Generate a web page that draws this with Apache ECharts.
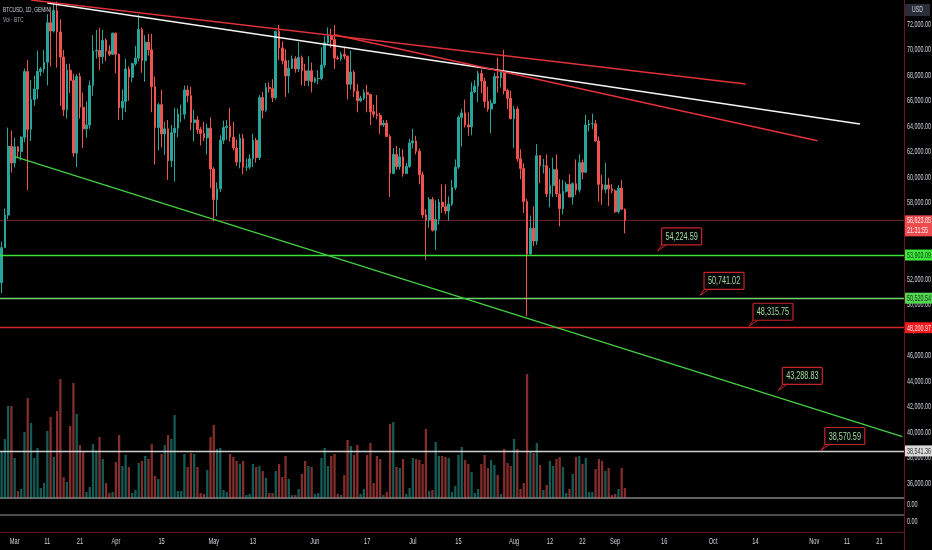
<!DOCTYPE html>
<html>
<head>
<meta charset="utf-8">
<script src="https://cdn.jsdelivr.net/npm/echarts@6/dist/echarts.min.js"></script>
<style>
  html, body { margin: 0; padding: 0; background: #000; }
  #chart { width: 932px; height: 550px; }
</style>
</head>
<body>
<div id="chart"></div>
<script>
// ---- data ----
var startDate = '2024-02-26';   // first category (day)
var dayCount = 277;             // categories on the time axis, up to Nov 28

// daily candles [open, high, low, close], from Feb 26 to Sep 4
var ohlc = [
  [51730,54940,50900,54480],[54480,57550,54450,57040],[57040,63900,56700,62430],[62430,63680,60360,61130],
  [61130,63110,60780,62390],[62390,62450,61600,62020],[62020,63220,61320,63140],[63140,68520,62750,68300],
  [68300,69200,59000,63760],[63760,67640,62850,66100],[66100,67980,65600,66920],[66920,69950,66150,68300],
  [68300,68650,67950,68500],[68500,69980,68200,69020],[69020,72800,67200,72120],[72120,72950,68700,71470],
  [71470,73650,71350,73080],[73080,73780,68600,71400],[71400,72400,65600,69430],[69430,70000,64800,65300],
  [65300,68900,64600,68400],[68400,68900,66600,67600],[67600,68100,61600,61900],[61900,68100,60800,67900],
  [67900,68200,64600,65500],[65500,66650,62300,63800],[63800,65950,63100,64100],[64100,67600,63800,67200],
  [67200,71150,66400,69900],[69900,71550,69300,69950],[69950,71700,68400,69450],[69450,71550,68900,70750],
  [70750,70900,69100,69900],[69900,70350,69500,69650],[69650,71350,69600,71300],[71300,71350,68150,69650],
  [69650,69700,64500,65450],[65450,66900,64500,65950],[65950,69300,65100,68500],[68500,68700,66000,67850],
  [67850,69000,67450,68900],[68900,70300,68750,69350],[69350,72750,69100,71600],[71600,71750,68200,69150],
  [69150,71150,67500,70600],[70600,71250,69550,70000],[70000,71250,65100,67100],[67100,67900,61000,63900],
  [63900,65850,62100,65700],[65700,66850,62350,63400],[63400,64350,61750,63800],[63800,64500,59800,61300],
  [61300,64100,60800,63500],[63500,65450,59650,63850],[63850,65400,63150,64950],[64950,65700,64300,64950],
  [64950,67200,64550,66850],[66850,67200,65900,66400],[66400,67100,63700,64300],[64300,65300,62800,64500],
  [64500,64800,63400,63750],[63750,63950,62500,63450],[63450,64350,62850,63100],[63100,64200,61800,63850],
  [63850,64700,59150,60650],[60650,60800,56550,58250],[58250,59600,56950,59100],[59100,63300,58850,62900],
  [62900,64450,62600,63900],[63900,64500,62950,64000],[64000,65450,62800,63150],[63150,64350,62100,62300],
  [62300,62950,60900,61200],[61200,63400,60700,63050],[63050,63400,60250,60800],[60800,61450,60500,60800],
  [60800,61800,60650,61450],[61450,63400,60800,62900],[62900,63100,61150,61550],[61550,66450,61350,66250],
  [66250,66700,64600,65250],[65250,67400,65100,67050],[67050,67450,66650,66950],[66950,67700,65900,66250],
  [66250,71500,66100,71450],[71450,71950,69200,70150],[70150,70650,68850,69150],[69150,70050,66300,67950],
  [67950,69200,66600,68550],[68550,69550,68500,69300],[69300,69500,68200,68500],[68500,70600,68250,69400],
  [69400,69550,67200,68350],[68350,68900,67150,67600],[67600,69500,67150,68350],[68350,69000,66650,67500],
  [67500,67850,67400,67750],[67750,68400,67300,67750],[67750,70200,67600,68800],[68800,71050,68550,70550],
  [70550,71750,70400,71100],[71100,71650,70150,70800],[70800,71950,68500,69350],[69350,69550,69200,69300],
  [69300,69850,69100,69650],[69650,70150,69250,69500],[69500,69550,66100,67300],[67300,69950,66900,68250],
  [68250,68400,66300,66750],[66750,67300,65100,66000],[66000,66400,65900,66200],[66200,66900,66050,66650],
  [66650,67250,65100,66500],[66500,66550,64100,65150],[65150,65700,64700,64950],[64950,66450,64550,64850],
  [64850,65050,63400,64100],[64100,64500,63950,64250],[64250,64500,63200,63200],[63200,63350,58450,60300],
  [60300,62300,60250,61800],[61800,62450,60600,60850],[60850,62300,60600,61600],[61600,62200,60050,60300],
  [60300,61150,60300,60850],[60850,63000,60750,62700],[62700,63800,62250,62850],[62850,63250,61800,62050],
  [62050,62250,59450,60200],[60200,60450,56800,57050],[57050,57500,53500,56650],[56650,58450,56050,58250],
  [58250,58450,55750,55850],[55850,58200,54300,56700],[56700,58300,56300,58050],[58050,59450,57200,57700],
  [57700,59450,57100,57350],[57350,58500,56600,57900],[57900,59800,57750,59200],[59200,61400,59000,60800],
  [60800,64850,60650,64700],[64700,65350,62400,65050],[65050,66100,63900,64100],[64100,65100,63250,63950],
  [63950,67450,63300,66700],[66700,67600,66600,67150],[67150,68350,65900,68150],[68150,68450,66600,67550],
  [67550,67800,65450,65950],[65950,67100,65150,65350],[65350,66100,63450,65800],[65800,68200,65750,67900],
  [67900,69400,66650,67800],[67800,68300,67050,68250],[68250,70000,66500,66800],[66800,66950,65350,66200],
  [66200,66800,64550,64600],[64600,65600,62300,65350],[65350,65550,61250,61450],[61450,62200,59850,60700],
  [60700,61100,57200,58100],[58100,58300,49100,53990],[53990,57000,53950,56000],[56000,57700,54600,55000],
  [55000,62600,54700,61700],[61700,61750,59550,60900],[60900,61450,60300,60900],[60900,61800,58450,58700],
  [58700,60700,57650,59350],[59350,61550,58450,60600],[60600,61800,58450,58700],[58700,59850,56150,57550],
  [57550,59800,57100,58900],[58900,59650,58800,59450],[59450,60250,58450,58450],[58450,59600,57850,59500],
  [59500,61400,58600,59000],[59000,61800,58800,61150],[61150,61400,59850,60400],[60400,64900,60350,64100],
  [64100,64500,63600,64200],[64200,65000,63800,64200],[64200,64500,62800,62850],[62850,63200,58100,59450],
  [59450,60200,57850,59050],[59050,61150,58750,59400],[59400,59950,57750,59100],[59100,59450,58750,58950],
  [58950,59050,57200,57300],[57300,59400,57150,59150],[59150,59800,57450,57500],[57500,57550,55600,56623.85]
];

// daily volume (BTC), same days as the candles
var volumes = [
  1175,1475,2300,2300,1000,175,225,1650,2500,1875,1000,1250,250,375,1675,2025,1025,2175,2975,525,
  400,1800,2875,2100,1325,1175,150,275,1350,1175,1525,975,375,125,150,900,1575,800,1075,775,
  125,200,875,925,1050,975,1350,550,475,1100,1325,1575,1475,2075,175,175,1100,775,1125,1100,
  775,125,100,700,1525,1825,1225,1250,200,150,1100,1025,925,850,925,75,100,850,775,800,
  675,500,125,125,675,850,525,1050,475,75,75,225,600,925,800,775,100,125,1000,1250,
  800,1050,1100,100,75,575,1450,1300,1075,1325,100,225,1075,1375,375,1050,975,75,150,1850,
  1900,775,750,975,100,250,1000,975,950,850,1725,175,200,1400,1050,1050,1025,1000,150,300,
  1075,1275,950,850,650,125,225,850,1075,750,950,825,575,100,1225,875,800,1475,1225,225,
  375,3100,1150,1125,1375,825,200,325,925,800,975,1025,775,125,225,600,1025,1050,850,1000,
  150,150,725,975,925,675,750,75,100,225,750,250
];

// time-axis tick labels
var tickLabels = [
  ['2024-03-01','Mar'],['2024-03-11','11'],['2024-03-21','21'],['2024-04-01','Apr'],['2024-04-15','15'],
  ['2024-05-01','May'],['2024-05-13','13'],['2024-06-01','Jun'],['2024-06-17','17'],['2024-07-01','Jul'],
  ['2024-07-15','15'],['2024-08-01','Aug'],['2024-08-12','12'],['2024-08-22','22'],['2024-09-01','Sep'],
  ['2024-09-16','16'],['2024-10-01','Oct'],['2024-10-14','14'],['2024-11-01','Nov'],['2024-11-11','11'],
  ['2024-11-21','21']
];

// price-scale tick labels
var priceTicks = [36000, 38000, 40000, 42000, 44000, 46000, 48000, 50000, 52000, 54000,
                  56000, 58000, 60000, 62000, 64000, 66000, 68000, 70000, 72000];

// drawn levels (horizontal lines) and the price line
var levelPrices = [53903.09, 50520.54, 48200.97, 38541.36];
var lastPrice = 56623.85;
var barCountdown = '21:31:55';

// trend lines [fromDate, fromPrice, toDate, toPrice]
var trendWhite = ['2024-03-11', 73670, '2024-11-15', 64180];
var trendRedUpper = ['2024-03-06', 73900, '2024-10-11', 67320];
var trendRedLower = ['2024-06-07', 71180, '2024-11-02', 62870];
var trendGreen = ['2024-03-01', 61620, '2024-11-28', 39660];

// price notes [date, price]
var priceNotes = [
  ['2024-09-14', 54224.59],
  ['2024-09-27', 50741.02],
  ['2024-10-12', 48315.75],
  ['2024-10-21', 43288.83],
  ['2024-11-03', 38570.59]
];

// ---- styling ----
var UP = '#26a69a', DOWN = '#ef5350';
var FONT = "'Liberation Sans', Arial, sans-serif";
var SQUEEZE = 0.6;              // the screenshot's text is horizontally condensed
var levelColors = ['#3be03b', '#6fd26f', '#d7262b', '#d0d0d0'];
var levelTagBg = ['#3ee63e', '#55d455', '#f0191e', '#d9d9d9'];
var levelTagFg = ['#0c3a0c', '#0c3a0c', '#ffe4e4', '#333333'];

function fmt(v) {
  return v.toLocaleString('en-US', { minimumFractionDigits: 2, maximumFractionDigits: 2 });
}

// condensed text element
function txt(x, y, s, color, size, align, sx) {
  return {
    type: 'text', x: x, y: y, scaleX: sx || SQUEEZE, silent: true,
    style: { x: 0, y: 0, text: s, fill: color, fontSize: size, fontFamily: FONT,
             align: align || 'left', verticalAlign: 'middle' }
  };
}

// category days
var dates = [];
var t0 = Date.parse(startDate + 'T00:00:00Z');
for (var i = 0; i < dayCount; i++) {
  dates.push(new Date(t0 + i * 86400000).toISOString().slice(0, 10));
}

var candleData = ohlc.map(function (d) { return [d[0], d[3], d[2], d[1]]; });
var volumeData = volumes.map(function (v, i) {
  var up = ohlc[i][3] >= ohlc[i][0];
  return { value: v, itemStyle: { color: up ? 'rgba(38,166,154,0.55)' : 'rgba(239,83,80,0.55)' } };
});

function trend(t, color, w) {
  return [{ coord: [t[0], t[1]], lineStyle: { color: color, width: w, type: 'solid' } },
          { coord: [t[2], t[3]] }];
}

var markLines = [];
levelPrices.forEach(function (p, i) {
  markLines.push({ yAxis: p, lineStyle: { color: levelColors[i], width: 1.4, type: 'solid' } });
});
markLines.push({ yAxis: lastPrice, lineStyle: { color: 'rgba(239,83,80,0.4)', width: 1, type: 'solid' } });
markLines.push(trend(trendWhite, '#f4f4f4', 1.5));
markLines.push(trend(trendRedUpper, '#e2323a', 1.5));
markLines.push(trend(trendRedLower, '#e2323a', 1.5));
markLines.push(trend(trendGreen, '#44cc44', 1.5));

var tagPrices = levelPrices.concat([lastPrice]);

var chart = echarts.init(document.getElementById('chart'));

chart.setOption({
  backgroundColor: '#000',
  animation: false,
  grid: [
    { left: 0, right: 28, top: -1.2, height: 510, outerBoundsMode: 'none' },
    { left: 0, right: 28, top: 374, height: 124, outerBoundsMode: 'none' }
  ],
  xAxis: [
    { type: 'category', gridIndex: 0, data: dates, boundaryGap: true,
      axisLine: { show: false }, axisTick: { show: false }, axisLabel: { show: false },
      splitLine: { show: false } },
    { type: 'category', gridIndex: 1, data: dates, boundaryGap: true, show: false }
  ],
  yAxis: [
    { type: 'value', gridIndex: 0, position: 'right', min: 34000, max: 74000, interval: 2000,
      axisLine: { show: false }, axisTick: { show: false }, axisLabel: { show: false },
      splitLine: { show: false } },
    { type: 'value', gridIndex: 1, min: 0, max: 3100, show: false }
  ],
  series: [
    {
      type: 'bar', xAxisIndex: 1, yAxisIndex: 1, data: volumeData,
      barWidth: '70%', silent: true
    },
    {
      type: 'candlestick', xAxisIndex: 0, yAxisIndex: 0, data: candleData,
      barWidth: '68%', silent: true,
      itemStyle: { color: UP, color0: DOWN, borderColor: UP, borderColor0: DOWN, borderWidth: 1 },
      markLine: {
        silent: true, animation: false, symbol: ['none', 'none'],
        label: { show: false }, emphasis: { disabled: true },
        data: markLines
      }
    },
    {
      // price-scale labels
      type: 'custom', xAxisIndex: 0, yAxisIndex: 0, z: 5, silent: true,
      data: priceTicks.map(function (p) { return [0, p]; }),
      renderItem: function (params, api) {
        var y = api.coord([0, api.value(1)])[1];
        var x = params.coordSys.x + params.coordSys.width + 3;
        return txt(x, y, fmt(api.value(1)), '#d1d4dc', 9);
      }
    },
    {
      // time-axis labels
      type: 'custom', xAxisIndex: 0, yAxisIndex: 0, z: 5, silent: true,
      data: tickLabels.map(function (t) { return [t[0], 40000]; }),
      renderItem: function (params, api) {
        var x = api.coord([api.value(0), api.value(1)])[0];
        return txt(x, 541, tickLabels[params.dataIndex][1], '#d1d4dc', 9.5, 'center');
      }
    },
    {
      // price notes with a small tail pointing at the price
      type: 'custom', xAxisIndex: 0, yAxisIndex: 0, z: 8, silent: true,
      data: priceNotes,
      renderItem: function (params, api) {
        var p = api.coord([api.value(0), api.value(1)]);
        var bx = p[0] + 4, bb = p[1] - 6, w = 40, h = 17;
        return {
          type: 'group',
          children: [
            { type: 'polygon', shape: { points: [[bx + 1, bb - 1], [bx + 6, bb - 1], [p[0], p[1]]] },
              style: { fill: '#000', stroke: '#c4242b', lineWidth: 1 } },
            { type: 'rect', shape: { x: bx, y: bb - h, width: w, height: h, r: 1 },
              style: { fill: '#050505', stroke: '#c4242b', lineWidth: 1.2 } },
            txt(bx + w / 2, bb - h / 2 + 0.5, fmt(api.value(1)), '#9fdc9f', 11, 'center', 0.66)
          ]
        };
      }
    },
    {
      // tags on the price scale
      type: 'custom', xAxisIndex: 0, yAxisIndex: 0, z: 10, silent: true,
      data: tagPrices.map(function (p) { return [0, p]; }),
      renderItem: function (params, api) {
        var y = api.coord([0, api.value(1)])[1];
        var x = params.coordSys.x + params.coordSys.width + 1;
        var i = params.dataIndex;
        if (i === levelPrices.length) {
          return {
            type: 'group',
            children: [
              { type: 'rect', shape: { x: x, y: y - 5, width: 27, height: 21 }, style: { fill: '#ee4b4e' } },
              txt(x + 2, y + 0.5, fmt(api.value(1)), '#ffecec', 9),
              txt(x + 2, y + 10, barCountdown, '#ffecec', 9)
            ]
          };
        }
        return {
          type: 'group',
          children: [
            { type: 'rect', shape: { x: x, y: y - 5.5, width: 27, height: 11 }, style: { fill: levelTagBg[i] } },
            txt(x + 2, y + 0.5, fmt(api.value(1)), levelTagFg[i], 9)
          ]
        };
      }
    }
  ],
  graphic: [
    txt(3, 9.5, 'BTCUSD, 1D, GEMINI', '#d1d4dc', 8),
    txt(3, 19.5, 'Vol · BTC', '#a3a6af', 8),
    { type: 'rect', x: 905, y: 4, silent: true, shape: { width: 25, height: 12, r: 1 },
      style: { fill: '#2a2e39' } },
    txt(917.5, 10, 'USD', '#d1d4dc', 8.5, 'center'),
    { type: 'line', silent: true, shape: { x1: 0, y1: 498, x2: 904, y2: 498 },
      style: { stroke: '#c2c2c2', lineWidth: 1 } },
    { type: 'line', silent: true, shape: { x1: 0, y1: 515, x2: 904, y2: 515 },
      style: { stroke: '#9a9a9a', lineWidth: 1 } },
    txt(907, 505, '0.00', '#d1d4dc', 9),
    txt(907, 522, '0.00', '#d1d4dc', 9),
    { type: 'line', silent: true, shape: { x1: 904.5, y1: 0, x2: 904.5, y2: 550 },
      style: { stroke: 'rgba(170,40,55,0.6)', lineWidth: 1 } },
    { type: 'line', silent: true, shape: { x1: 0, y1: 532.5, x2: 904, y2: 532.5 },
      style: { stroke: 'rgba(170,40,55,0.6)', lineWidth: 1 } }
  ]
});
</script>
</body>
</html>
